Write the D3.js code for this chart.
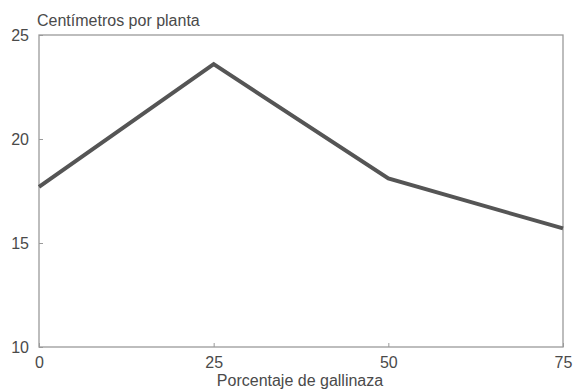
<!DOCTYPE html>
<html lang="es">
<head>
<meta charset="utf-8">
<script src="https://cdn.jsdelivr.net/npm/d3@7"></script>
<style>
  body { margin: 0; background: #fff; }
  text { font-family: "Liberation Sans", Arial, sans-serif; fill: #4a4a4a; }
</style>
</head>
<body>
<svg width="575" height="389"></svg>
<script>
var porcentajes = [0, 25, 50, 75];
var centimetros = [17.7, 23.6, 18.1, 15.7];
var ticksY = [10, 15, 20, 25];

var svg = d3.select("svg");
var izq = 39, der = 563, arriba = 35, abajo = 347;

var x = d3.scaleLinear().domain([0, 75]).range([izq, der]);
var y = d3.scaleLinear().domain([10, 25]).range([abajo, arriba]);

// marco
svg.append("rect")
  .attr("x", izq).attr("y", arriba)
  .attr("width", der - izq).attr("height", abajo - arriba)
  .attr("fill", "none").attr("stroke", "#9a9a9a").attr("stroke-width", 1.3);

// eje x, marcas hacia dentro
var ejeX = svg.append("g")
  .attr("transform", "translate(0," + abajo + ")")
  .call(d3.axisBottom(x).tickValues(porcentajes).tickSizeInner(-4).tickSizeOuter(0).tickPadding(10));
ejeX.select(".domain").remove();
ejeX.selectAll("line").attr("stroke", "#9a9a9a");
ejeX.selectAll("text").style("font-size", "16px").attr("fill", "#4a4a4a");

// eje y
var ejeY = svg.append("g")
  .attr("transform", "translate(" + izq + ",0)")
  .call(d3.axisLeft(y).tickValues(ticksY).tickSizeInner(-4).tickSizeOuter(0).tickPadding(10));
ejeY.select(".domain").remove();
ejeY.selectAll("line").attr("stroke", "#9a9a9a");
ejeY.selectAll("text").style("font-size", "16px").attr("fill", "#4a4a4a");

// titulos
svg.append("text").attr("x", 37).attr("y", 26)
  .style("font-size", "16px").text("Centímetros por planta");
svg.append("text").attr("x", 300).attr("y", 386)
  .attr("text-anchor", "middle")
  .style("font-size", "16px").text("Porcentaje de gallinaza");

// linea
var linea = d3.line()
  .x(function (d, i) { return x(porcentajes[i]); })
  .y(function (d) { return y(d); });

svg.append("path")
  .datum(centimetros)
  .attr("d", linea)
  .attr("fill", "none")
  .attr("stroke", "#555555")
  .attr("stroke-width", 4)
  .attr("stroke-linejoin", "miter");
</script>
</body>
</html>
